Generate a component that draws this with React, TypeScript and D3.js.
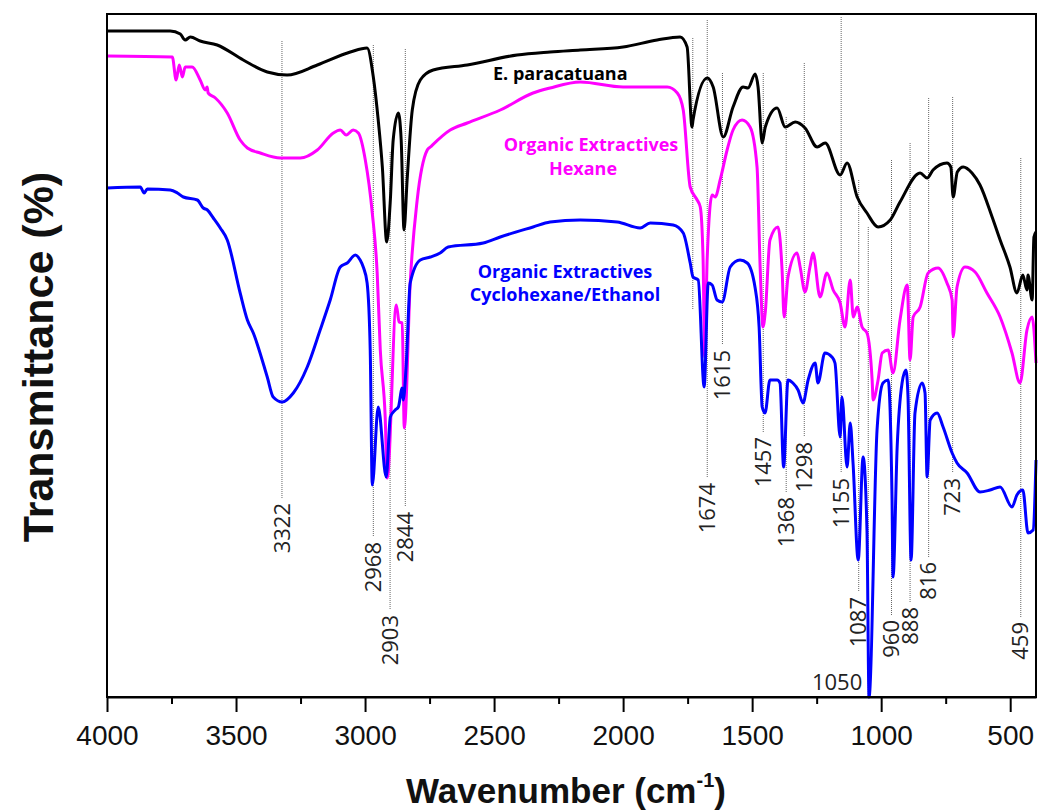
import React, {useEffect, useRef} from 'react';
import * as d3 from 'd3';

// FTIR spectra, [wavenumber, transmittance]
const paracatuana: [number, number][] = [
  [4000, 66.6], [3755, 66.6], [3716, 66.3], [3697, 65.7], [3677, 66.0], [3639, 65.6],
  [3573, 65.2], [3472, 63.7], [3379, 62.5], [3302, 62.2], [3185, 63.2], [3057, 64.5],
  [2992, 64.9], [2968, 62.0], [2949, 57.7], [2933, 53.0], [2916, 45.5], [2902, 49.7],
  [2891, 55.7], [2871, 58.4], [2860, 55.7], [2849, 46.7], [2837, 51.7], [2817, 58.7],
  [2786, 61.7], [2736, 62.7], [2604, 63.2], [2411, 64.2], [2283, 64.5], [2166, 64.7],
  [2000, 65.0], [1868, 65.7], [1779, 66.0], [1752, 65.0], [1733, 57.0], [1729, 57.7],
  [1674, 61.9], [1651, 61.0], [1612, 56.0], [1574, 59.0], [1535, 61.0], [1516, 60.9],
  [1488, 62.3], [1477, 61.0], [1461, 55.4], [1449, 57.0], [1403, 58.9], [1372, 57.0],
  [1333, 57.5], [1295, 56.9], [1248, 55.0], [1217, 55.4], [1159, 52.2], [1132, 53.4],
  [1093, 50.0], [1055, 48.4], [1012, 47.0], [965, 47.7], [927, 49.5], [849, 52.4],
  [822, 51.9], [799, 52.7], [745, 53.4], [730, 53.0], [721, 50.0], [705, 52.5],
  [682, 53.0], [648, 52.4], [617, 51.2], [570, 48.0], [539, 45.7], [501, 43.0],
  [474, 40.4], [451, 42.2], [435, 40.7], [431, 42.2], [415, 39.7], [408, 46.0], [400, 46.5],
];

const hexane: [number, number][] = [
  [4000, 64.1], [3747, 64.0], [3732, 61.7], [3720, 63.2], [3708, 62.0], [3697, 63.0],
  [3670, 63.0], [3639, 61.7], [3619, 60.7], [3612, 61.0], [3608, 60.4], [3580, 59.9],
  [3534, 58.4], [3484, 55.7], [3456, 54.9], [3406, 54.4], [3328, 53.9], [3251, 53.9],
  [3185, 54.7], [3123, 56.4], [3096, 56.7], [3073, 56.2], [3046, 56.7], [3026, 56.4],
  [2999, 53.7], [2972, 48.4], [2953, 42.4], [2941, 34.7], [2922, 28.0], [2914, 21.9],
  [2879, 39.2], [2868, 37.5], [2856, 37.4], [2848, 26.9], [2825, 41.4], [2798, 49.7],
  [2759, 54.7], [2747, 55.0], [2670, 56.7], [2604, 57.4], [2476, 58.7], [2349, 60.4],
  [2283, 60.9], [2166, 61.5], [2000, 61.0], [1829, 61.0], [1790, 60.4], [1767, 58.7],
  [1740, 51.0], [1713, 49.7], [1701, 49.0], [1690, 43.7], [1684, 34.0], [1674, 44.0],
  [1655, 50.2], [1643, 50.0], [1624, 51.7], [1597, 54.7], [1574, 56.7], [1539, 57.7],
  [1508, 57.0], [1481, 53.0], [1469, 43.0], [1458, 37.0], [1449, 38.5], [1431, 45.7],
  [1400, 47.0], [1384, 42.7], [1376, 38.0], [1361, 42.0], [1326, 44.4], [1314, 43.0],
  [1295, 40.5], [1276, 43.0], [1264, 44.4], [1237, 40.0], [1210, 42.4], [1186, 40.7],
  [1159, 39.4], [1140, 37.0], [1120, 41.7], [1108, 38.0], [1093, 39.0], [1074, 37.0],
  [1055, 36.4], [1035, 31.7], [1031, 29.7], [1012, 31.7], [996, 34.4], [973, 34.7],
  [954, 32.4], [927, 37.7], [899, 41.2], [888, 33.7], [876, 38.0], [849, 39.0],
  [818, 42.4], [779, 42.9], [745, 41.4], [725, 39.7], [721, 36.0], [706, 41.0],
  [675, 43.0], [636, 42.5], [590, 40.4], [539, 38.0], [493, 34.4], [462, 31.4],
  [435, 36.7], [415, 38.0], [400, 33.4],
];

const cyclohexane_ethanol: [number, number][] = [
  [4000, 50.9], [3871, 51.0], [3856, 50.4], [3844, 50.8], [3755, 50.7], [3727, 50.4],
  [3704, 50.0], [3650, 49.7], [3627, 48.9], [3611, 48.7], [3588, 47.9], [3561, 46.9],
  [3534, 45.7], [3484, 40.4], [3456, 37.7], [3433, 36.4], [3379, 32.0], [3356, 30.0],
  [3321, 29.5], [3278, 30.4], [3224, 33.0], [3174, 36.7], [3135, 39.7], [3096, 43.0],
  [3069, 43.4], [3038, 44.2], [3019, 43.7], [3007, 43.0], [2992, 41.4], [2980, 34.7],
  [2972, 21.2], [2949, 29.0], [2918, 22.0], [2902, 28.0], [2883, 28.7], [2871, 29.0],
  [2856, 30.9], [2852, 29.7], [2841, 33.0], [2825, 41.4], [2786, 43.7], [2747, 44.0],
  [2709, 44.4], [2678, 45.0], [2542, 45.4], [2476, 46.0], [2349, 47.0], [2283, 47.5],
  [2166, 47.7], [2023, 47.5], [1934, 46.9], [1895, 47.4], [1806, 47.2], [1767, 46.4],
  [1740, 43.4], [1729, 42.0], [1709, 41.7], [1686, 31.0], [1670, 41.4], [1655, 41.2],
  [1636, 39.7], [1616, 39.5], [1585, 43.0], [1547, 43.7], [1519, 43.4], [1489, 41.0],
  [1473, 37.0], [1461, 29.0], [1450, 28.4], [1431, 31.7], [1403, 31.7], [1392, 31.4],
  [1378, 23.0], [1361, 31.7], [1342, 31.4], [1322, 30.7], [1303, 29.4], [1283, 31.7],
  [1256, 33.4], [1245, 31.4], [1218, 34.4], [1191, 34.0], [1179, 33.4], [1159, 26.0],
  [1152, 30.0], [1132, 23.0], [1120, 27.4], [1109, 23.4], [1089, 13.7], [1070, 24.0],
  [1055, 16.7], [1047, 0.0], [1016, 26.7], [993, 31.4], [973, 31.7], [958, 20.0],
  [954, 12.0], [938, 25.0], [919, 31.4], [904, 32.7], [896, 30.0], [884, 13.7],
  [869, 28.4], [841, 31.4], [830, 30.4], [822, 22.0], [810, 27.7], [783, 28.4],
  [760, 27.0], [725, 24.4], [706, 23.4], [667, 22.4], [617, 20.5], [578, 20.7],
  [539, 21.0], [493, 19.0], [474, 20.2], [451, 20.7], [431, 16.4], [411, 16.7], [400, 23.7],
];

// Peak marker lines: wavenumber, label, top and bottom (transmittance units)
const peak_wavenumbers = [3322, 2968, 2903, 2844, 1730, 1674, 1615, 1457, 1368, 1298, 1155, 1087, 1050, 960, 888, 816, 723, 459];
const peak_labels = ['3322', '2968', '2903', '2844', '', '1674', '1615', '1457', '1368', '1298', '1155', '1087', '1050', '960', '888', '816', '723', '459'];
const peak_tops = [65.6, 65.2, 54.5, 64.8, 65.9, 67.7, 62.4, 62.4, 58.0, 63.4, 68.0, 51.7, 47.0, 53.7, 55.4, 59.9, 60.0, 53.9];
const peak_bottoms = [19.9, 16.0, 8.7, 19.0, 38.7, 21.9, 35.2, 26.5, 20.5, 26.0, 22.4, 10.5, 0, 8.2, 9.5, 14.0, 22.4, 8.0];

const x_ticks = [4000, 3500, 3000, 2500, 2000, 1500, 1000, 500];
const x_minor_ticks = [3750, 3250, 2750, 2250, 1750, 1250, 750];

export default function App() {
  const ref = useRef<SVGSVGElement>(null);

  useEffect(() => {
    const root = d3.select(ref.current);
    root.selectAll('*').remove();

    const total_width = 1038;
    const total_height = 811;
    const margin = {top: 14, right: 2, bottom: 114, left: 107};
    const width = total_width - margin.left - margin.right;
    const height = total_height - margin.top - margin.bottom;

    const svg = root
      .attr('width', total_width)
      .attr('height', total_height)
      .append('g')
      .attr('transform', `translate(${margin.left},${margin.top})`);

    const x_scale = d3.scaleLinear().domain([4000, 400]).range([0, width]);
    const y_scale = d3.scaleLinear().domain([0, 68.3]).range([height, 0]);

    // dotted peak markers
    peak_wavenumbers.forEach((wn, i) => {
      const x = x_scale(wn);
      svg
        .append('line')
        .attr('x1', x)
        .attr('x2', x)
        .attr('y1', y_scale(peak_tops[i]))
        .attr('y2', y_scale(peak_bottoms[i]))
        .attr('stroke', '#666')
        .attr('stroke-width', 1)
        .attr('stroke-dasharray', '1,1');

      if (!peak_labels[i]) return;
      if (peak_labels[i] === '1050') {
        svg
          .append('text')
          .attr('x', x - 6)
          .attr('y', height - 7)
          .attr('text-anchor', 'end')
          .attr('font-family', '"Open Sans", "Noto Sans", sans-serif')
          .attr('font-size', '22px')
          .attr('fill', '#222')
          .text(peak_labels[i]);
        return;
      }
      svg
        .append('text')
        .attr('transform', `translate(${x},${y_scale(peak_bottoms[i]) + 5}) rotate(-90)`)
        .attr('text-anchor', 'end')
        .attr('dy', '0.35em')
        .attr('font-family', '"Open Sans", "Noto Sans", sans-serif')
        .attr('font-size', '22px')
        .attr('fill', '#222')
        .text(peak_labels[i]);
    });

    const line = d3
      .line<[number, number]>()
      .x((d) => x_scale(d[0]))
      .y((d) => y_scale(d[1]))
      .curve(d3.curveMonotoneX);

    const series = [
      {data: paracatuana, color: '#000000'},
      {data: hexane, color: '#ff00ff'},
      {data: cyclohexane_ethanol, color: '#0000ff'},
    ];
    series.forEach((s) => {
      svg
        .append('path')
        .datum(s.data)
        .attr('fill', 'none')
        .attr('stroke', s.color)
        .attr('stroke-width', 3)
        .attr('stroke-linejoin', 'round')
        .attr('d', line);
    });

    // series labels
    const label_font = '"Open Sans", "Noto Sans", sans-serif';
    svg
      .append('text')
      .attr('x', 493 - margin.left)
      .attr('y', 80 - margin.top)
      .attr('font-family', label_font)
      .attr('font-weight', 700)
      .attr('font-size', '18px')
      .attr('fill', '#000')
      .text('E. paracatuana');

    const hex_label = svg
      .append('text')
      .attr('text-anchor', 'middle')
      .attr('font-family', label_font)
      .attr('font-weight', 700)
      .attr('font-size', '18px')
      .attr('fill', '#ff00ff');
    hex_label.append('tspan').attr('x', 591 - margin.left).attr('y', 151 - margin.top).text('Organic Extractives');
    hex_label.append('tspan').attr('x', 583 - margin.left).attr('y', 175 - margin.top).text('Hexane');

    const eth_label = svg
      .append('text')
      .attr('text-anchor', 'middle')
      .attr('font-family', label_font)
      .attr('font-weight', 700)
      .attr('font-size', '18px')
      .attr('fill', '#0000ff');
    eth_label.append('tspan').attr('x', 565 - margin.left).attr('y', 278 - margin.top).text('Organic Extractives');
    eth_label.append('tspan').attr('x', 565 - margin.left).attr('y', 301 - margin.top).text('Cyclohexane/Ethanol');

    // frame
    svg
      .append('rect')
      .attr('width', width)
      .attr('height', height)
      .attr('fill', 'none')
      .attr('stroke', '#000')
      .attr('stroke-width', 2);

    // x axis
    svg
      .append('g')
      .attr('transform', `translate(0,${height})`)
      .call(d3.axisBottom(x_scale).tickValues(x_minor_ticks).tickSize(7).tickFormat(() => ''))
      .call((g) => g.select('.domain').remove())
      .call((g) => g.selectAll('.tick line').attr('stroke-width', 2));

    svg
      .append('g')
      .attr('transform', `translate(0,${height})`)
      .call(d3.axisBottom(x_scale).tickValues(x_ticks).tickSize(15).tickSizeOuter(0).tickPadding(13).tickFormat(d3.format('d')))
      .call((g) => {
        g.select('.domain').attr('stroke-width', 2);
        g.selectAll('.tick line').attr('stroke-width', 2);
        g.selectAll('.tick text')
          .attr('font-family', '"Liberation Sans", Arial, sans-serif')
          .attr('font-size', '28px')
          .attr('fill', '#111');
      });

    // axis titles
    const x_title = root
      .append('text')
      .attr('x', 566)
      .attr('y', 803)
      .attr('text-anchor', 'middle')
      .attr('font-family', '"Liberation Sans", Arial, sans-serif')
      .attr('font-weight', 700)
      .attr('font-size', '35px')
      .attr('fill', '#111');
    x_title.append('tspan').text('Wavenumber (cm');
    x_title.append('tspan').attr('font-size', '20px').attr('dy', -16).text('-1');
    x_title.append('tspan').attr('dy', 16).text(')');

    root
      .append('text')
      .attr('transform', `translate(53,357) rotate(-90)`)
      .attr('text-anchor', 'middle')
      .attr('font-family', '"Liberation Sans", Arial, sans-serif')
      .attr('font-weight', 700)
      .attr('font-size', '43px')
      .attr('fill', '#111')
      .text('Transmittance (%)');
  }, []);

  return (
    <div style={{position: 'absolute', left: 0, top: 0, background: '#fff'}}>
      <svg ref={ref}></svg>
    </div>
  );
}
